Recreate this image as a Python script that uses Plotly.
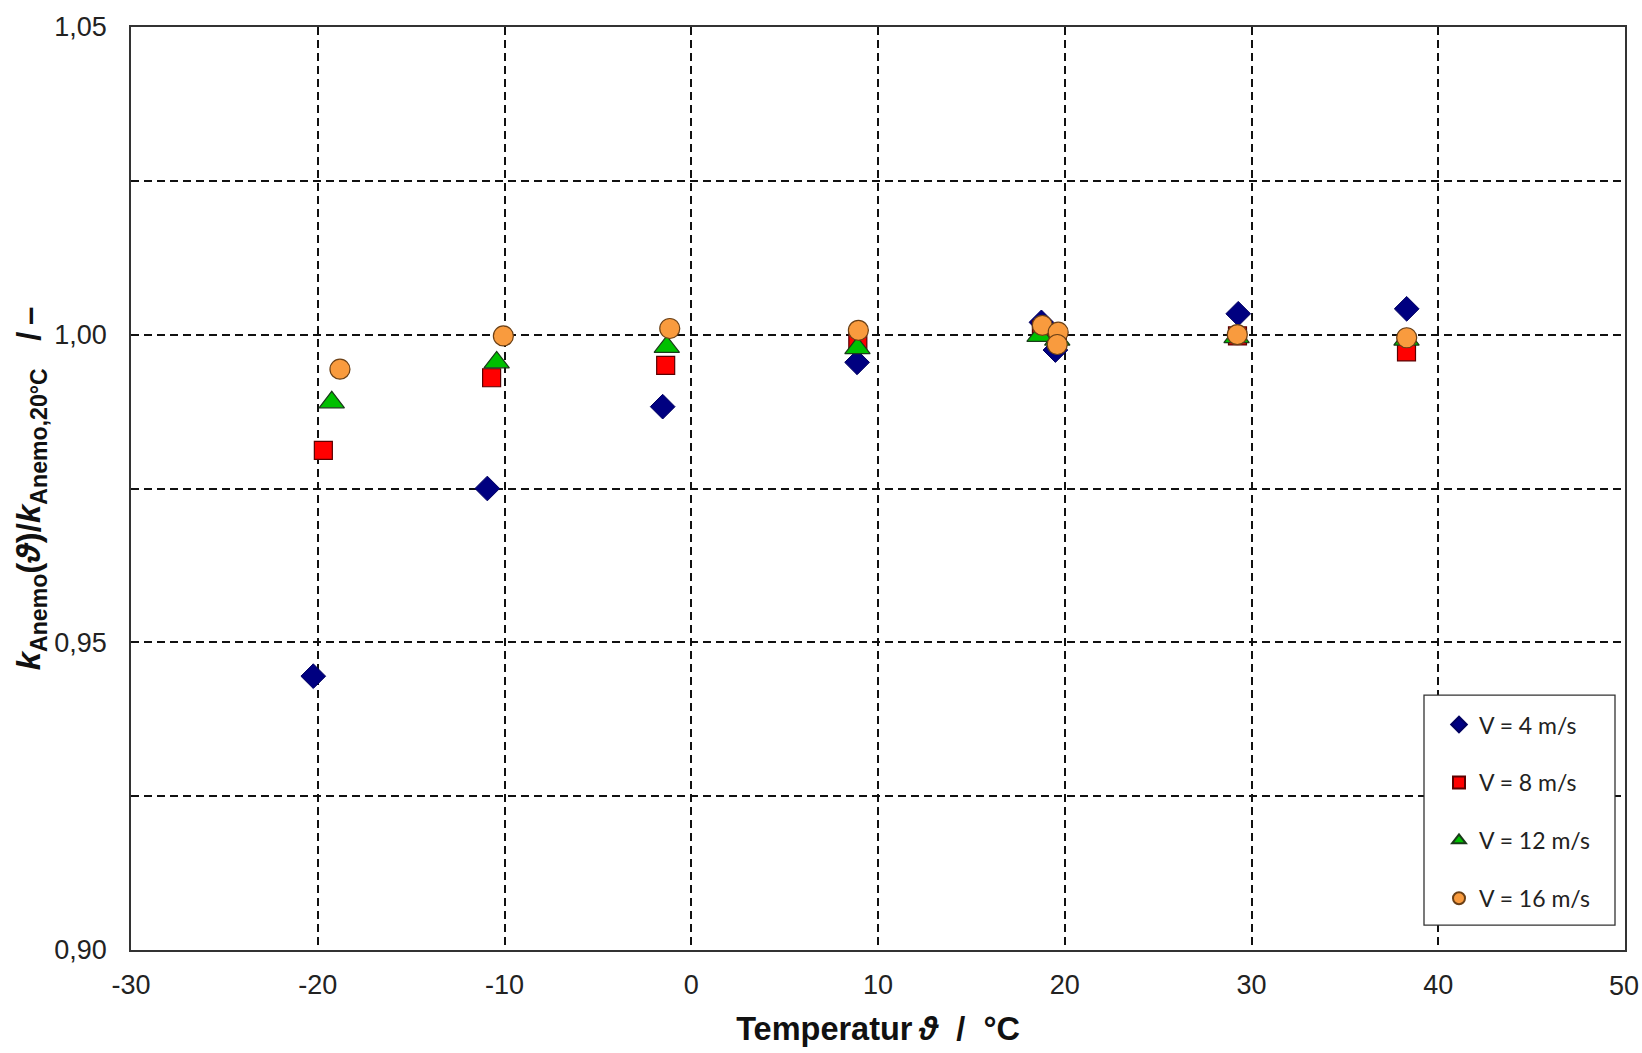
import plotly.graph_objects as go

# ---- data ----
x_v4 = [-20.24, -10.92, -1.53, 8.88, 18.75, 19.50, 29.29, 38.31]
y_v4 = [0.9445, 0.9750, 0.9883, 0.9955, 1.0020, 0.9975, 1.0034, 1.0042]

x_v8 = [-19.70, -10.69, -1.37, 8.92, 18.75, 19.60, 29.25, 38.30]
y_v8 = [0.9812, 0.9930, 0.9950, 0.9990, 1.0008, 0.9995, 0.9998, 0.9972]

x_v12 = [-19.25, -10.42, -1.31, 8.90, 18.65, 19.60, 29.20, 38.30]
y_v12 = [0.9890, 0.9955, 0.9980, 0.9978, 0.9998, 0.9992, 0.9996, 0.9992]

x_v16 = [-18.81, -10.06, -1.15, 8.95, 18.80, 19.65, 19.60, 29.24, 38.31]
y_v16 = [0.9944, 0.9998, 1.0010, 1.0007, 1.0015, 1.0004, 0.9984, 1.0000, 0.9995]

series_names = ["V = 4 m/s", "V = 8 m/s", "V = 12 m/s", "V = 16 m/s"]

x_ticks = [-30, -20, -10, 0, 10, 20, 30, 40, 50]
y_ticks = [0.90, 0.95, 1.00, 1.05]

# ---- figure ----
W, H = 1642, 1053
ML, MR, MT, MB = 131, 17, 25, 101
PW = W - ML - MR
PH = H - MT - MB

def px_x(p):
    return (p - ML) / PW

def px_y(p):
    return (H - MB - p) / PH

fig = go.Figure()

fig.add_trace(go.Scatter(
    x=x_v4, y=y_v4, mode="markers", name=series_names[0], legendgroup="a",
    marker=dict(symbol="diamond", size=19, color="#000080",
                line=dict(color="#000060", width=1))))
fig.add_trace(go.Scatter(
    x=x_v8, y=y_v8, mode="markers", name=series_names[1], legendgroup="b",
    marker=dict(symbol="square", size=18, color="#FF0000",
                line=dict(color="#5a0000", width=1.2))))
fig.add_trace(go.Scatter(
    x=x_v12, y=y_v12, mode="markers", name=series_names[2], legendgroup="c",
    marker=dict(symbol="triangle-up", size=22, color="#00C000",
                line=dict(color="#1a3a1a", width=1.2))))
fig.add_trace(go.Scatter(
    x=x_v16, y=y_v16, mode="markers", name=series_names[3], legendgroup="d",
    marker=dict(symbol="circle", size=20, color="#F99B3E",
                line=dict(color="#6b4016", width=1.2))))

grid_dash = "8px,5px"
grid_col = "#111111"
tick_font = dict(family="Liberation Sans, Arial, sans-serif", size=27, color="#222222")

# last x tick label is drawn as an annotation so it stays inside the page
x_ticktext = [str(v) for v in x_ticks[:-1]] + [""]

fig.update_xaxes(
    range=[-30, 50], tickvals=x_ticks, ticktext=x_ticktext,
    showgrid=True, gridcolor=grid_col, gridwidth=1.5, griddash=grid_dash,
    zeroline=False, showline=True, linecolor="#333333", linewidth=1.6, mirror=True,
    ticks="", ticklabelstandoff=10, tickfont=tick_font,
    title=dict(text="Temperatur\u2009<i>ϑ</i>\u00a0\u00a0/\u00a0\u00a0°C",
               font=dict(family="Liberation Sans, Arial, sans-serif", size=32.5, color="#111111",
                         weight="bold"),
               standoff=18),
)
fig.add_annotation(x=x_ticks[-1], xref="x", y=0, yref="paper", text=str(x_ticks[-1]),
                   showarrow=False, xanchor="center", yanchor="top", xshift=-1, yshift=-20,
                   font=tick_font, borderpad=0)

fig.update_yaxes(
    range=[0.90, 1.05], tickvals=y_ticks, ticktext=["0,90", "0,95", "1,00", "1,05"],
    showgrid=True, gridcolor=grid_col, gridwidth=1.5, griddash=grid_dash,
    minor=dict(dtick=0.025, tick0=0.90, showgrid=True, gridcolor=grid_col,
               gridwidth=1.5, griddash=grid_dash, ticks=""),
    zeroline=False, showline=True, linecolor="#333333", linewidth=1.6, mirror=True,
    ticks="", ticklabelstandoff=17, tickfont=tick_font,
    title=dict(text="<i>k</i><sub>Anemo</sub>(<i>ϑ</i>)/<i>k</i><sub>Anemo,20°C</sub>\u00a0\u00a0\u00a0/\u2009–\u00a0",
               font=dict(family="Liberation Sans, Arial, sans-serif", size=33, color="#111111",
                         weight="bold"),
               standoff=4),
)

# legend frame
fig.add_shape(type="rect", xref="paper", yref="paper",
              x0=px_x(1424), x1=px_x(1615), y0=px_y(927), y1=px_y(696),
              line=dict(color="#333333", width=1.3), fillcolor="white", layer="above")

fig.update_layout(
    width=W, height=H, autosize=False,
    margin=dict(l=ML, r=MR, t=MT, b=MB),
    paper_bgcolor="white", plot_bgcolor="white",
    showlegend=True,
    legend=dict(x=px_x(1439), y=px_y(704), xanchor="left", yanchor="top",
                bgcolor="rgba(0,0,0,0)", borderwidth=0,
                font=dict(family="Lato, Open Sans, sans-serif", size=23, color="#222222"),
                tracegroupgap=25, itemsizing="constant"),
)

fig.write_html("out.html", config={"responsive": False})
